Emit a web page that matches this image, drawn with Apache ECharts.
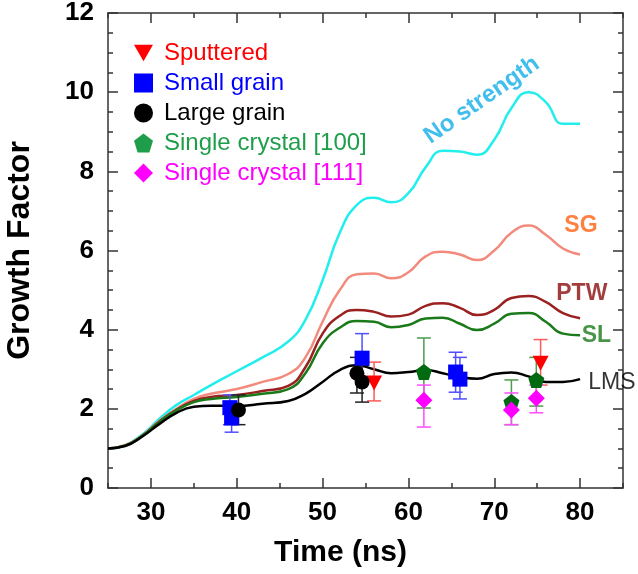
<!DOCTYPE html>
<html>
<head>
<meta charset="utf-8">
<script src="https://cdn.jsdelivr.net/npm/echarts@6.0.0/dist/echarts.min.js"></script>
<style>
  html, body { margin: 0; padding: 0; background: #fff; }
  #chart { width: 638px; height: 574px; }
</style>
</head>
<body>
<div id="chart"></div>
<script>
// simulation curves, sampled in time (ns)
const timeNs = [25, 27, 29, 31, 33, 35, 37, 40, 43, 46, 48, 50, 52, 54, 56, 58, 60, 62, 64, 66, 68, 70, 72, 74, 76, 78, 80];
const noStrength = [1.0, 1.08, 1.35, 1.75, 2.1, 2.35, 2.6, 2.95, 3.3, 3.7, 4.25, 5.25, 6.45, 7.15, 7.33, 7.22, 7.45, 8.1, 8.52, 8.5, 8.42, 8.8, 9.6, 10.0, 9.75, 9.2, 9.2];
const sg = [1.0, 1.08, 1.33, 1.7, 2.0, 2.25, 2.38, 2.5, 2.68, 2.88, 3.3, 4.2, 5.0, 5.4, 5.42, 5.3, 5.45, 5.85, 5.97, 5.9, 5.76, 6.0, 6.45, 6.63, 6.4, 6.05, 5.9];
const ptw = [1.0, 1.07, 1.32, 1.68, 1.98, 2.2, 2.3, 2.35, 2.45, 2.58, 3.05, 3.9, 4.35, 4.5, 4.45, 4.33, 4.38, 4.6, 4.67, 4.55, 4.37, 4.5, 4.8, 4.85, 4.7, 4.42, 4.29];
const sl = [1.0, 1.07, 1.32, 1.67, 1.96, 2.17, 2.25, 2.3, 2.38, 2.5, 2.9, 3.65, 4.05, 4.22, 4.2, 4.06, 4.12, 4.28, 4.3, 4.15, 3.99, 4.15, 4.4, 4.42, 4.2, 3.9, 3.86];
const lms = [1.0, 1.06, 1.3, 1.62, 1.9, 2.05, 2.08, 2.07, 2.13, 2.2, 2.38, 2.68, 2.98, 3.1, 3.0, 2.9, 2.93, 2.98, 2.9, 2.8, 2.76, 2.88, 2.92, 2.82, 2.68, 2.68, 2.75];

// experiments: [time, value, low, high]
const sputtered = [[56.0, 2.65, 2.2, 3.18], [75.4, 3.15, 2.6, 3.75]];
const smallGrain = [[39.2, 2.03, 1.6, 2.35], [39.4, 1.77, 1.41, 2.1], [54.6, 3.28, 2.65, 3.9], [65.5, 2.93, 2.42, 3.43], [66.0, 2.75, 2.25, 3.3]];
const largeGrain = [[40.2, 1.97, 1.6, 2.35], [54.0, 2.9, 2.4, 3.3], [54.6, 2.68, 2.17, 3.1]];
const crystal100 = [[61.8, 2.93, 2.02, 3.79], [72.0, 2.17, 1.6, 2.73], [74.9, 2.73, 2.07, 3.3]];
const crystal111 = [[61.8, 2.22, 1.54, 2.6], [72.0, 1.97, 1.6, 2.4], [74.9, 2.27, 1.9, 2.6]];

const xMajor = [30, 40, 50, 60, 70, 80];

const FONT = 'Liberation Sans, Arial, sans-serif';
const downTri = 'path://M0,0L10,0L5,8.7Z';
const pentagon = 'path://M5,0L10,3.8L8.1,10L1.9,10L0,3.8Z';
const diamond = 'path://M5,0L10,5L5,10L0,5Z';

function pairs(ys) {
  return timeNs.map((t, i) => [t, ys[i]]);
}

function curve(name, ys, color) {
  return {
    name: name, type: 'line', data: pairs(ys), smooth: 0.5,
    showSymbol: false, lineStyle: { color: color, width: 2.5 }, z: 1
  };
}

function errBars(name, pts, color) {
  return {
    name: name, type: 'custom', silent: true, z: 2,
    data: pts, encode: { x: 0, y: [2, 3] },
    renderItem: function (params, api) {
      const x = api.value(0);
      const lo = api.coord([x, api.value(2)]);
      const hi = api.coord([x, api.value(3)]);
      const w = 7;
      const st = { stroke: color, lineWidth: 1.5 };
      return {
        type: 'group',
        children: [
          { type: 'line', shape: { x1: lo[0], y1: lo[1], x2: hi[0], y2: hi[1] }, style: st },
          { type: 'line', shape: { x1: lo[0] - w, y1: lo[1], x2: lo[0] + w, y2: lo[1] }, style: st },
          { type: 'line', shape: { x1: hi[0] - w, y1: hi[1], x2: hi[0] + w, y2: hi[1] }, style: st }
        ]
      };
    }
  };
}

function points(name, pts, symbol, size, color) {
  return {
    name: name, type: 'scatter', data: pts.map(p => [p[0], p[1]]),
    symbol: symbol, symbolSize: size, itemStyle: { color: color, opacity: 1 }, z: 3
  };
}

function curveLabel(text, x, y, color, size, weight, rotate) {
  return {
    value: [x, y],
    label: { show: true, position: 'inside', formatter: text, color: color,
      fontFamily: FONT, fontSize: size, fontWeight: weight, rotate: rotate || 0 }
  };
}

const chart = echarts.init(document.getElementById('chart'));
chart.setOption({
  animation: false,
  backgroundColor: '#fff',
  grid: { left: 108, right: 15, top: 13, bottom: 86, outerBoundsMode: 'none', containLabel: false },
  legend: {
    orient: 'vertical', left: 129, top: 36,
    itemWidth: 19, itemHeight: 19, itemGap: 6,
    textStyle: { fontFamily: FONT, fontSize: 24, padding: [0, 0, 0, 6] },
    data: [
      { name: 'Sputtered', icon: downTri, itemStyle: { color: '#ff0000' }, textStyle: { color: '#ff0000' } },
      { name: 'Small grain', icon: 'rect', itemStyle: { color: '#0000ff' }, textStyle: { color: '#0000ff' } },
      { name: 'Large grain', icon: 'circle', itemStyle: { color: '#000000' }, textStyle: { color: '#000000' } },
      { name: 'Single crystal [100]', icon: pentagon, itemStyle: { color: '#1e9e4a' }, textStyle: { color: '#1e9e4a' } },
      { name: 'Single crystal [111]', icon: diamond, itemStyle: { color: '#ff00ff' }, textStyle: { color: '#ff00ff' } }
    ]
  },
  xAxis: [
    {
      type: 'value', min: 25, max: 85, position: 'bottom',
      name: 'Time (ns)', nameLocation: 'middle', nameGap: 50,
      nameTextStyle: { fontFamily: FONT, fontSize: 30, fontWeight: 'bold', color: '#000', padding: [0, 50, 0, 0] },
      axisLine: { lineStyle: { color: '#333', width: 1.5 } },
      axisTick: { inside: true, length: 10, customValues: xMajor, lineStyle: { color: '#333', width: 1.5 } },
      axisLabel: { customValues: xMajor, margin: 12, fontFamily: FONT, fontSize: 26, fontWeight: 'bold', color: '#000' },
      splitLine: { show: false }
    },
    {
      type: 'value', min: 25, max: 85, interval: 5, position: 'bottom',
      axisLine: { show: false },
      axisTick: { inside: true, length: 5, lineStyle: { color: '#333', width: 1.5 } },
      axisLabel: { show: false }, splitLine: { show: false }
    },
    {
      type: 'value', min: 25, max: 85, position: 'top',
      axisLine: { lineStyle: { color: '#333', width: 1.5 } },
      axisTick: { inside: true, length: 10, customValues: xMajor, lineStyle: { color: '#333', width: 1.5 } },
      axisLabel: { show: false }, splitLine: { show: false }
    },
    {
      type: 'value', min: 25, max: 85, interval: 5, position: 'top',
      axisLine: { show: false },
      axisTick: { inside: true, length: 5, lineStyle: { color: '#333', width: 1.5 } },
      axisLabel: { show: false }, splitLine: { show: false }
    }
  ],
  yAxis: [
    {
      type: 'value', min: 0, max: 12, interval: 2, position: 'left',
      name: 'Growth Factor', nameLocation: 'middle', nameGap: 72,
      nameTextStyle: { fontFamily: FONT, fontSize: 32, fontWeight: 'bold', color: '#000' },
      axisLine: { show: true, lineStyle: { color: '#333', width: 1.5 } },
      axisTick: { show: true, inside: true, length: 10, lineStyle: { color: '#333', width: 1.5 } },
      minorTick: { show: true, splitNumber: 4, length: 5, lineStyle: { color: '#333', width: 1.5 } },
      axisLabel: { margin: 14, fontFamily: FONT, fontSize: 26, fontWeight: 'bold', color: '#000' },
      splitLine: { show: false }
    },
    {
      type: 'value', min: 0, max: 12, interval: 2, position: 'right',
      axisLine: { show: true, lineStyle: { color: '#333', width: 1.5 } },
      axisTick: { show: true, inside: true, length: 10, lineStyle: { color: '#333', width: 1.5 } },
      minorTick: { show: true, splitNumber: 4, length: 5, lineStyle: { color: '#333', width: 1.5 } },
      axisLabel: { show: false }, splitLine: { show: false }
    }
  ],
  series: [
    curve('No strength', noStrength, '#22eeee'),
    curve('SG', sg, '#f28b7d'),
    curve('PTW', ptw, '#9b2020'),
    curve('SL', sl, '#1a7a1a'),
    curve('LMS', lms, '#000000'),
    errBars('Sputtered', sputtered, '#ff5a5a'),
    errBars('Small grain', smallGrain, '#4f4fff'),
    errBars('Large grain', largeGrain, '#222222'),
    errBars('Single crystal [100]', crystal100, '#4c9c4c'),
    errBars('Single crystal [111]', crystal111, '#ff4dff'),
    points('Sputtered', sputtered, downTri, [16, 15], '#ff0000'),
    points('Small grain', smallGrain, 'rect', 15, '#0000ff'),
    points('Large grain', largeGrain, 'circle', 15, '#000000'),
    points('Single crystal [100]', crystal100, pentagon, 16, '#006a10'),
    points('Single crystal [111]', crystal111, diamond, 17, '#ff00ff'),
    {
      name: 'curve labels', type: 'scatter', symbolSize: 1, silent: true, z: 4,
      itemStyle: { color: 'transparent' },
      data: [
        curveLabel('No strength', 68.55, 9.8, '#12aee8', 24, 'bold', 35),
        curveLabel('SG', 80.1, 6.62, '#ff6010', 23, 'bold'),
        curveLabel('PTW', 80.2, 4.92, '#8b0d0d', 23, 'bold'),
        curveLabel('SL', 81.9, 3.86, '#1a7a1a', 23, 'bold'),
        curveLabel('LMS', 83.7, 2.65, '#000000', 23, 'normal')
      ]
    }
  ]
});
</script>
</body>
</html>
